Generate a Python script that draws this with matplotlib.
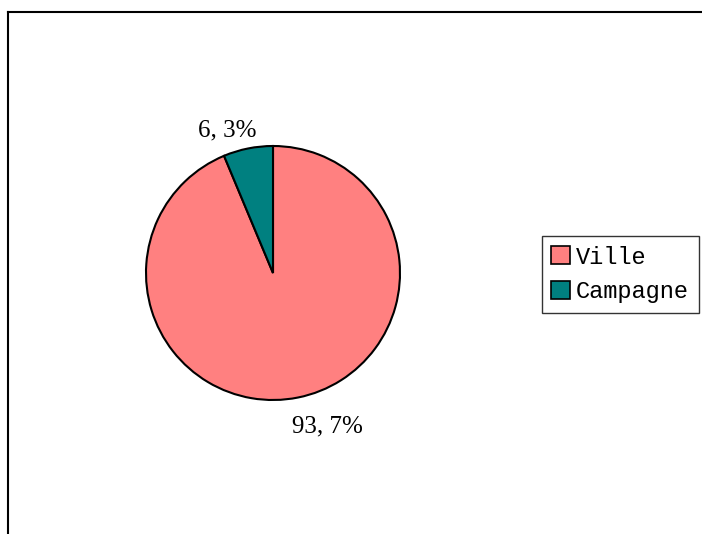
import matplotlib

matplotlib.use("Agg")
import matplotlib.pyplot as plt
from matplotlib.lines import Line2D
from matplotlib.patches import Patch

# Data
CATEGORIES = ["Ville", "Campagne"]
VALUES = [93.7, 6.3]
VALUE_LABELS = ["93, 7%", "6, 3%"]
COLORS = ["#FF8080", "#008080"]

MONO = ["Liberation Mono", "DejaVu Sans Mono"]
SERIF = ["Liberation Serif", "DejaVu Serif"]
W, H, DPI = 702, 534, 100

# pie geometry in pixels
CX, CY, R = 273, 273, 127
# label anchors in pie units (radius = 1)
LABEL_POS = [(0.425, -1.205), (-0.362, 1.126)]


def main():
    fig = plt.figure(figsize=(W / DPI, H / DPI), dpi=DPI)
    fig.patch.set_facecolor("white")

    ax = fig.add_axes([(CX - R) / W, (H - CY - R) / H, 2 * R / W, 2 * R / H])
    wedges, _ = ax.pie(VALUES, colors=COLORS, startangle=90, counterclock=False,
                       radius=1.0,
                       wedgeprops=dict(edgecolor="black", linewidth=1.5))
    ax.set_xlim(-1, 1)
    ax.set_ylim(-1, 1)
    ax.set_aspect("equal")
    ax.set_axis_off()

    for (x, y), txt in zip(LABEL_POS, VALUE_LABELS):
        ax.text(x, y, txt, ha="center", va="center", fontsize=18,
                family=SERIF, color="black", clip_on=False)

    # chart-area border (top and left visible, rest clipped by image edge)
    fig.add_artist(Line2D([8 / W, 1.0], [1 - 12 / H, 1 - 12 / H],
                          transform=fig.transFigure, color="black", lw=1.5))
    fig.add_artist(Line2D([8 / W, 8 / W], [1 - 12 / H, 0.0],
                          transform=fig.transFigure, color="black", lw=1.5))

    handles = [Patch(facecolor=c, edgecolor="black", linewidth=1.2) for c in COLORS]
    leg = fig.legend(handles, CATEGORIES, loc="center left",
                     bbox_to_anchor=(542 / W, 1 - 274.5 / H),
                     prop=dict(family=MONO, size=17), frameon=True,
                     fancybox=False, borderpad=0.4, labelspacing=0.5,
                     handlelength=0.8, handleheight=0.8, handletextpad=0.25,
                     borderaxespad=0.0)
    leg.get_frame().set_edgecolor("black")
    leg.get_frame().set_linewidth(1.0)

    fig.savefig("out.png", dpi=DPI)


if __name__ == "__main__":
    main()
